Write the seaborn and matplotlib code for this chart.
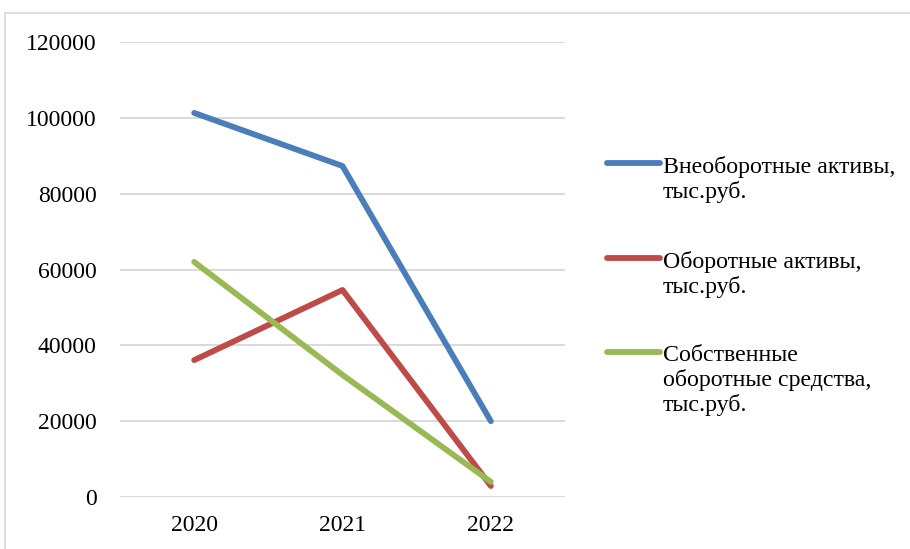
import matplotlib
matplotlib.use('Agg')
import matplotlib.pyplot as plt
from matplotlib.lines import Line2D
from matplotlib.patches import Rectangle
import pandas as pd
import seaborn as sns

years = ['2020', '2021', '2022']
series_names = [
    'Внеоборотные активы,\nтыс.руб.',
    'Оборотные активы,\nтыс.руб.',
    'Собственные\nоборотные средства,\nтыс.руб.',
]
non_current = [101300, 87300, 20000]
current = [36100, 54600, 2900]
own_working = [62000, 32200, 4000]
colors = ['#4A7EBB', '#BE4B48', '#98B954']
y_ticks = [0, 20000, 40000, 60000, 80000, 100000, 120000]

df = pd.DataFrame({
    'year': years * 3,
    'value': non_current + current + own_working,
    'series': [series_names[0]] * 3 + [series_names[1]] * 3 + [series_names[2]] * 3,
})

sns.set_theme(style='white')
plt.rcParams['font.family'] = ['Liberation Serif', 'DejaVu Serif']
plt.rcParams['text.color'] = 'black'

fig = plt.figure(figsize=(9.1, 5.49), dpi=100)
ax = fig.add_axes([120 / 910, 1 - 497 / 549, 445 / 910, 455 / 549])

sns.lineplot(data=df, x='year', y='value', hue='series', palette=colors,
             linewidth=4.2, ax=ax, legend=False, solid_capstyle='round', sort=False)

ax.set_xlim(-0.5, 2.5)
ax.set_ylim(0, 120000)
ax.set_yticks(y_ticks)
ax.set_yticklabels([str(t) for t in y_ticks])
ax.yaxis.grid(True, color='#D9D9D9', linewidth=1.4)
ax.set_axisbelow(True)
for s in ax.spines.values():
    s.set_visible(False)
ax.tick_params(axis='both', length=0, labelsize=17, colors='black')
ax.tick_params(axis='y', pad=17)
ax.tick_params(axis='x', pad=13)
ax.set_xlabel('')
ax.set_ylabel('')

# chart frame (extends past the right and bottom edges, like the cropped screenshot)
fig.add_artist(Rectangle((5 / 910, -0.1), 1.2, 1 - 13 / 549 + 0.1,
                         transform=fig.transFigure, fill=False,
                         edgecolor='#D9D9D9', linewidth=1.2))

# legend: handle aligned with first text line
legend_y = [163, 258, 352]
for name, col, yp in zip(series_names, colors, legend_y):
    yf = 1 - yp / 549
    fig.add_artist(Line2D([607 / 910, 660 / 910], [yf, yf], transform=fig.transFigure,
                          color=col, linewidth=4.2, solid_capstyle='round'))
    fig.text(663 / 910, 1 - (yp - 7) / 549, name, fontsize=17.2, va='top', ha='left',
             linespacing=1.17, color='black')

fig.savefig('out.png', dpi=100)
plt.close(fig)
